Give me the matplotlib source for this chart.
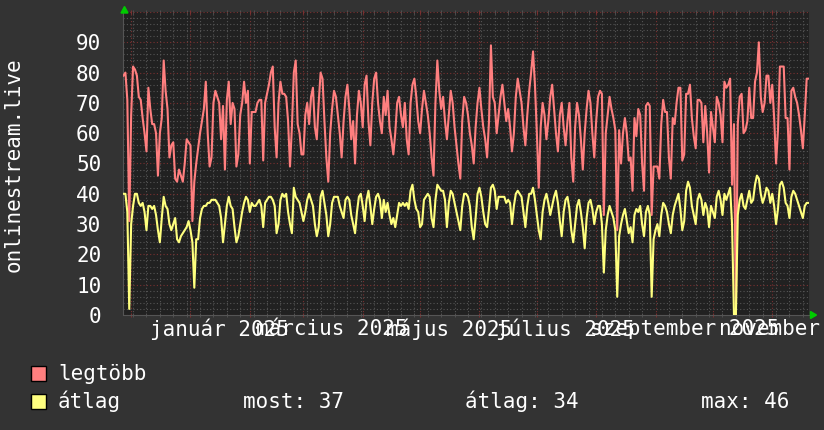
import pandas as pd
import matplotlib
matplotlib.use("Agg")
import matplotlib.pyplot as plt
import matplotlib.dates as mdates
from matplotlib.ticker import MultipleLocator
from matplotlib.patches import Rectangle, Polygon

# daily values, starting 2024-11-27
start = "2024-11-27"
legtobb = [
    79, 80, 71, 31, 66, 82, 81, 79, 72, 71,
    65, 60, 54, 75, 68, 63, 63, 60, 46, 60,
    65, 84, 74, 68, 52, 56, 57, 45, 44, 48,
    46, 44, 50, 58, 57, 56, 31, 44, 50, 55,
    60, 64, 68, 77, 60, 49, 52, 70, 74, 72,
    70, 58, 69, 48, 71, 77, 63, 70, 68, 49,
    53, 66, 70, 77, 70, 74, 50, 67, 67, 67,
    70, 71, 71, 51, 70, 73, 76, 80, 82, 62,
    52, 70, 77, 73, 73, 72, 64, 49, 62, 80,
    84, 63, 60, 53, 53, 66, 70, 63, 72, 75,
    62, 58, 70, 80, 78, 64, 52, 44, 60, 68,
    74, 72, 66, 60, 52, 64, 72, 76, 68, 58,
    64, 50, 66, 74, 70, 62, 76, 79, 64, 56,
    70, 78, 80, 70, 64, 60, 72, 66, 74, 62,
    58, 53, 60, 70, 72, 66, 62, 70, 58, 53,
    70, 76, 78, 72, 64, 60, 68, 74, 70, 66,
    60, 52, 46, 70, 84, 74, 68, 72, 64, 58,
    66, 74, 70, 62, 56, 50, 45, 64, 72, 70,
    66, 60, 56, 50, 62, 70, 75, 68, 62, 58,
    52, 64, 89, 72, 70, 60, 66, 72, 76, 70,
    64, 68, 62, 54, 60, 72, 78, 74, 70, 62,
    56, 66, 74, 80, 87, 76, 60, 42, 62, 70,
    66, 58, 64, 72, 76, 68, 60, 54, 66, 70,
    62, 56, 64, 70, 52, 44, 62, 70, 66, 58,
    48, 60, 68, 74, 70, 60, 52, 64, 72,
    74, 73, 33, 60, 66, 72, 68, 65, 61, 28,
    61, 50, 60, 65, 60, 51, 52, 41, 65, 59,
    68, 66, 50, 41, 69, 70, 69, 33, 49, 49,
    49, 45, 63, 71, 67, 67, 52, 45, 65, 63,
    70, 75, 75, 51, 53, 73, 73, 76, 65, 59,
    55, 71, 71, 70, 57, 69, 60, 47, 67, 62,
    57, 72, 70, 66, 57, 77, 75, 76, 78, 43,
    63, 0, 63, 72, 73, 60, 61, 64, 75, 65,
    65, 77, 80, 90, 72, 67, 70, 79, 79, 70,
    76, 65, 50, 61, 82, 82, 82, 65, 65, 48,
    74, 75, 72, 70, 66, 61, 55, 66, 78, 78,
]
atlag = [
    40, 40, 34, 2, 30, 36, 40, 40, 37, 36,
    37, 34, 28, 36, 36, 35, 36, 33, 28, 24,
    32, 39, 36, 35, 30, 28, 30, 32, 25, 24,
    26, 27, 28, 29, 31, 28, 24, 9, 25, 25,
    32, 35, 36, 36, 37, 37, 38, 38, 38, 37,
    36, 32, 24, 30, 36, 39, 36, 35, 29, 24,
    26, 30, 34, 37, 39, 38, 34, 37, 36, 36,
    37, 38, 36, 29, 37, 38, 39, 39, 38, 36,
    27, 30, 38, 40, 39, 40, 34, 30, 27, 42,
    39, 38, 37, 34, 31, 34, 38, 40, 38, 36,
    30, 26, 29, 39, 41, 37, 33, 26, 30, 37,
    39, 39, 39, 36, 34, 32, 38, 39, 38, 33,
    30, 27, 34, 39, 40, 36, 31, 38, 41, 36,
    30, 35, 39, 40, 38, 32, 38, 34, 37, 33,
    30, 32, 29, 33, 37, 36, 37, 36, 37, 35,
    41, 43, 38, 35, 34, 29, 30, 38, 39, 40,
    39, 32, 29, 38, 43, 42, 41, 41, 38, 29,
    37, 41, 40, 37, 34, 31, 28, 36, 40, 40,
    39, 36, 29, 25, 32, 40, 42, 39, 34, 30,
    29, 35, 42, 43, 41, 35, 39, 39, 39, 39,
    37, 38, 37, 30, 36, 40, 41, 40, 39, 34,
    29, 36, 40, 40, 42, 38, 33, 28, 25, 34,
    38, 40, 37, 33, 36, 39, 41, 37, 31, 26,
    34, 38, 39, 35, 28, 24, 30, 36, 38, 34,
    29, 22, 32, 37, 38, 35, 30, 34, 36,
    36, 30, 14, 28, 33, 36, 34, 32, 28, 6,
    26, 30, 33, 35, 31, 27, 29, 24, 33, 35,
    34, 36, 30, 26, 34, 36, 33, 6, 25, 28,
    30, 26, 33, 37, 36, 34, 30, 27, 33, 36,
    38, 40, 35, 28, 31, 41, 44, 42, 36, 33,
    30, 38, 40, 38, 33, 37, 35, 29, 36, 34,
    32, 39, 41, 38, 33, 40, 38, 40, 42, 30,
    0, 0, 33, 38, 40, 36, 35, 38, 41, 37,
    38, 43, 46, 45, 40, 37, 39, 42, 41, 37,
    40, 36, 30, 35, 43, 44, 42, 37, 36, 32,
    39, 41, 40, 38, 36, 34, 32, 36, 37, 37,
]

label_months = ["2025-01-01", "2025-03-01", "2025-05-01",
                "2025-07-01", "2025-09-01", "2025-11-01"]
month_names = ["január 2025", "március 2025", "május 2025",
               "július 2025", "szeptember 2025", "november 2025"]
y_ticks = [0, 10, 20, 30, 40, 50, 60, 70, 80, 90, 100]
y_labels = ["0", "10", "20", "30", "40", "50", "60", "70", "80", "90", ""]
series_names = ["legtöbb", "átlag"]
stat_names = ["most", "átlag", "max"]
stat_values = [37, 34, 46]

BG = "#333333"
PLOT_BG = "#212121"
FG = "#ffffff"
RED = "#ff7f7f"
YEL = "#ffff7f"
GREEN = "#00cc00"
MINOR = "#555555"
MAJOR = "#7a3030"

plt.rcParams["font.family"] = "DejaVu Sans Mono"
plt.rcParams["font.size"] = 15

W, H = 824, 430
fig = plt.figure(figsize=(W / 100, H / 100), dpi=100, facecolor=BG)

# plot area in pixels
x0, x1, y0, y1 = 123.5, 808.6, 315, 12
ax = fig.add_axes([x0 / W, 1 - y0 / H, (x1 - x0) / W, (y0 - y1) / H])
ax.set_facecolor(PLOT_BG)

days = pd.date_range(start, periods=len(legtobb), freq="D")
ax.plot(days, legtobb, color=RED, lw=1.5, zorder=3)
ax.plot(days, atlag, color=YEL, lw=1.5, zorder=4)

ax.set_xlim(days[0], days[-1])
ax.set_ylim(0, 100)

# grid: weeks / months, 2 / 10 units
ax.xaxis.set_major_locator(mdates.MonthLocator())
ax.xaxis.set_minor_locator(mdates.WeekdayLocator(byweekday=mdates.MO))
ax.set_yticks(y_ticks)
ax.set_yticklabels(y_labels)
ax.yaxis.set_minor_locator(MultipleLocator(2))
ax.grid(which="minor", color=MINOR, ls=(0, (1, 2)), lw=0.8, zorder=1)
ax.grid(which="major", color=MAJOR, ls=(0, (1, 2)), lw=0.8, zorder=1)
ax.set_axisbelow(True)

ax.tick_params(axis="x", which="both", labelbottom=False, top=True,
               length=3, direction="inout")
ax.tick_params(axis="x", which="major", colors=MAJOR)
ax.tick_params(axis="x", which="minor", colors=MINOR)
ax.tick_params(axis="y", which="both", length=0, pad=16, labelcolor=FG)

for s in ["top", "right"]:
    ax.spines[s].set_visible(False)
for s in ["bottom", "left"]:
    ax.spines[s].set_color(MINOR)
    ax.spines[s].set_linewidth(0.8)

# month labels centred half a month after the month start
trans = ax.get_xaxis_transform()
for m, name in zip(label_months, month_names):
    pos = pd.Timestamp(m) + pd.Timedelta(days=15)
    ax.text(pos, -0.047, name, transform=trans, ha="center", va="center",
            color=FG, clip_on=False)

# axis arrows
def px(x, y):
    return (x / W, 1 - y / H)

fig.add_artist(Polygon([px(124.5, 6.5), px(121, 13), px(128, 13)],
                       closed=True, color=GREEN, transform=fig.transFigure))
fig.add_artist(Polygon([px(816.5, 315), px(810.5, 311.5), px(810.5, 318.5)],
                       closed=True, color=GREEN, transform=fig.transFigure))

# vertical title
fig.text(14 / W, 1 - 165 / H, "onlinestream.live", rotation=90,
         ha="center", va="center", color=FG)

# legend
for i, (name, col) in enumerate(zip(series_names, [RED, YEL])):
    top = 366 + i * 28
    fig.add_artist(Rectangle(px(31.5, top + 15), 15 / W, 15 / H,
                             facecolor=col, edgecolor="black", lw=1,
                             transform=fig.transFigure))
    fig.text(58 / W, 1 - (top + 14.5) / H, name, color=FG, va="baseline")

for xs, n, v in zip([243, 465, 701], stat_names, stat_values):
    fig.text(xs / W, 1 - 408.5 / H, f"{n}: {v}", color=FG, va="baseline")

fig.savefig("out.png", dpi=100, facecolor=BG)
